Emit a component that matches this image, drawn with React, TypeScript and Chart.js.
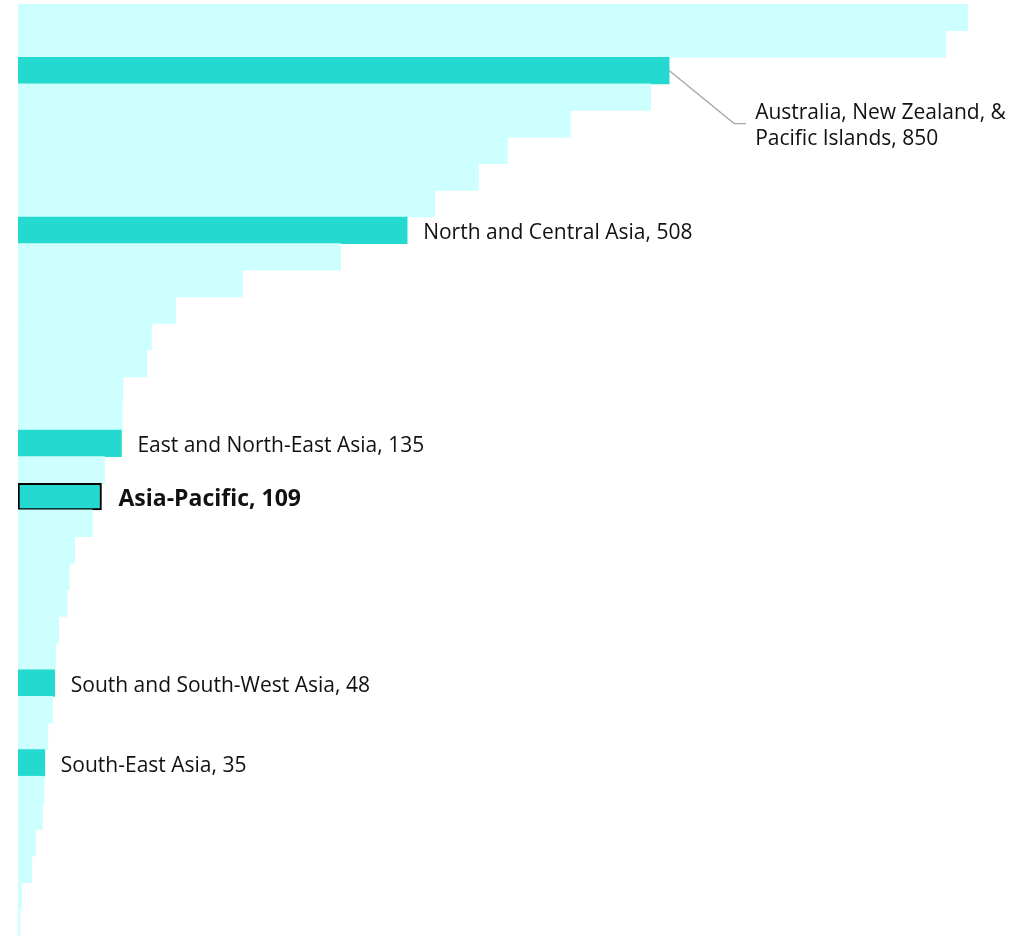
import React, { useEffect, useRef } from "react";
import { Chart, registerables } from "chart.js";

Chart.register(...registerables);

const categories: string[] = [
  "", "", "Australia, New Zealand, & Pacific Islands", "", "", "", "", "",
  "North and Central Asia", "", "", "", "", "", "", "",
  "East and North-East Asia", "", "Asia-Pacific", "", "", "", "", "",
  "", "South and South-West Asia", "", "", "South-East Asia", "", "", "", "",
  "", "",
];

const values: number[] = [
  1240, 1211, 850, 826, 721, 639, 601, 544, 508, 421, 293, 206, 174, 168, 137,
  136, 135, 113, 109, 97, 74, 67, 64, 53, 49, 48, 45, 39, 35, 34, 32, 23, 18,
  4.5, 2.7,
];

// 0 = other economy, 1 = subregion, 2 = Asia-Pacific total
const kinds: number[] = [
  0, 0, 1, 0, 0, 0, 0, 0, 1, 0, 0, 0, 0, 0, 0, 0, 1, 0, 2, 0, 0, 0, 0, 0, 0, 1,
  0, 0, 1, 0, 0, 0, 0, 0, 0,
];

const labelLines: Record<number, string[]> = {
  2: ["Australia, New Zealand, &", "Pacific Islands, 850"],
};

const X_MAX = 1325;
const LIGHT = "#CCFFFD";
const TEAL = "#23D9D0";
const FONT = "'Open Sans', Lato, sans-serif";

const labelPlugin = {
  id: "barLabels",
  afterDatasetsDraw(chart: any) {
    const ctx = chart.ctx as CanvasRenderingContext2D;
    const meta = chart.getDatasetMeta(0);
    ctx.save();
    ctx.textBaseline = "middle";
    ctx.textAlign = "left";
    ctx.fillStyle = "#111111";
    categories.forEach((name, i) => {
      if (!name) return;
      const bar = meta.data[i];
      const v = values[i];
      if (labelLines[i]) {
        const ex = bar.x + 65;
        const ey = bar.y + 53;
        ctx.strokeStyle = "#A6A6A6";
        ctx.lineWidth = 1.3;
        ctx.beginPath();
        ctx.moveTo(bar.x, bar.y);
        ctx.lineTo(ex, ey);
        ctx.lineTo(ex + 12, ey);
        ctx.stroke();
        ctx.font = `21px ${FONT}`;
        const lines = labelLines[i];
        ctx.fillText(lines[0], ex + 21, ey - 11);
        ctx.fillText(lines[1], ex + 21, ey + 15);
        return;
      }
      if (kinds[i] === 2) {
        ctx.font = `bold 23px ${FONT}`;
        ctx.fillText(`${name}, ${v}`, bar.x + 17, bar.y + 3);
      } else {
        ctx.font = `21px ${FONT}`;
        ctx.fillText(`${name}, ${v}`, bar.x + 16, bar.y + 3);
      }
    });
    ctx.restore();
  },
};

export default function App() {
  const ref = useRef<HTMLCanvasElement | null>(null);
  useEffect(() => {
    if (!ref.current) return;
    const chart = new Chart(ref.current, {
      type: "bar",
      data: {
        labels: categories,
        datasets: [
          {
            data: values,
            backgroundColor: kinds.map((k) => (k === 0 ? LIGHT : TEAL)),
            borderColor: kinds.map((k) => (k === 2 ? "#000000" : "rgba(0,0,0,0)")),
            borderWidth: kinds.map((k) => (k === 2 ? 2 : 0)),
            borderSkipped: false,
            categoryPercentage: 1,
            barPercentage: 1,
          },
        ],
      },
      options: {
        indexAxis: "y",
        animation: false,
        responsive: false,
        maintainAspectRatio: false,
        layout: { padding: { left: 18, top: 4, right: 0, bottom: -2 } },
        plugins: {
          legend: { display: false },
          tooltip: { enabled: false },
          title: { display: false },
        },
        scales: {
          x: { display: false, min: 0, max: X_MAX },
          y: { display: false },
        },
      },
      plugins: [labelPlugin],
    });
    return () => chart.destroy();
  }, []);
  return (
    <div style={{ position: "absolute", left: 0, top: 0, width: 1033, height: 936, background: "#fff" }}>
      <canvas ref={ref} width={1033} height={936} />
    </div>
  );
}
